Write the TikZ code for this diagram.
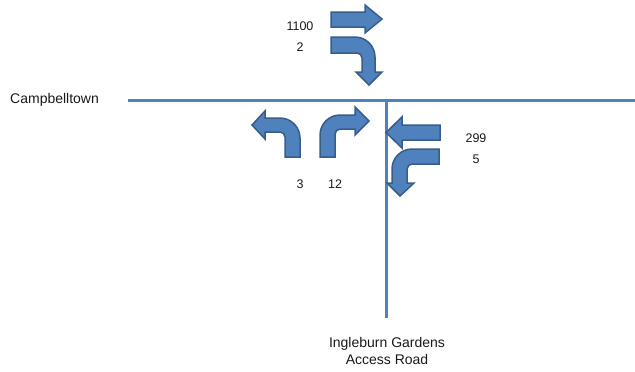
\documentclass[tikz,border=0pt]{standalone}
\usepackage{fontspec}
\setmainfont{Liberation Sans}
\definecolor{roadblue}{HTML}{4F81BD}
\definecolor{arrowfill}{HTML}{4F81BD}
\definecolor{arrowedge}{HTML}{385D8A}
\begin{document}
\begin{tikzpicture}[x=1pt,y=-1pt,
  road/.style={draw=roadblue,line width=3pt},
  turnarrow/.style={fill=arrowfill,draw=arrowedge,line width=1.5pt,line join=miter},
  lbl/.style={inner sep=0pt,font=\fontsize{14}{16.5}\selectfont,text=black!90},
  num/.style={inner sep=0pt,font=\fontsize{12.5}{14}\selectfont,text=black!90}]
\useasboundingbox (0,0) rectangle (635,372);
% roads
\coordinate (hw) at (128,100);
\coordinate (he) at (635,100);
\coordinate (vn) at (386,100);
\coordinate (vs) at (386,318);
\draw[road] (hw) -- (he);
\draw[road] (vn) -- (vs);
% arrow 1100 (straight east)
\path[turnarrow] (331,12) -- (365,12) -- (365,5) -- (382,19) -- (365,33) -- (365,27) -- (331,27) -- cycle;
% arrow 2 (east then south)
\path[turnarrow] (331,37) -- (355,37) .. controls (366,37) and (375,46) .. (375,57) -- (375,72) -- (382,72) -- (369,85) -- (356,72) -- (362,72) -- (362,58) .. controls (362,55.2) and (359.8,53) .. (357,53) -- (331,53) -- cycle;
% arrow 3 (north then west)
\path[turnarrow] (300,157) -- (300,138) .. controls (300,127) and (291,118) .. (280,118) -- (265,118) -- (265,111) -- (252,125) -- (265,139) -- (265,132) -- (280,132) .. controls (282.8,132) and (285,134.2) .. (285,137) -- (285,157) -- cycle;
% arrow 12 (north then east)
\path[turnarrow] (320,157) -- (320,135) .. controls (320,124) and (329,115) .. (340,115) -- (355,115) -- (355,107) -- (369,121) -- (355,135) -- (355,129) -- (340,129) .. controls (337.2,129) and (335,131.8) .. (335,134) -- (335,157) -- cycle;
% arrow 299 (straight west)
\path[turnarrow] (440,125) -- (402,125) -- (402,117) -- (386,132.5) -- (402,148) -- (402,140) -- (440,140) -- cycle;
% arrow 5 (west then south)
\path[turnarrow] (439,149) -- (412,149) .. controls (401,149) and (392,158) .. (392,169) -- (392,183) -- (387,183) -- (400,196) -- (414,183) -- (407,183) -- (407,169) .. controls (407,166.2) and (409.8,164) .. (412,164) -- (439,164) -- cycle;
% labels
\node[num] (n1100) at (300,26) {1100};
\node[num] (n2) at (300,47) {2};
\node[num] (n3) at (300,184) {3};
\node[num] (n12) at (335,184) {12};
\node[num] (n299) at (476,138) {299};
\node[num] (n5) at (476,159) {5};
\node[lbl,anchor=west] (camp) at (10,100) {Campbelltown};
\node[lbl,align=center] (ing) at (387,351) {Ingleburn Gardens\\Access Road};
\end{tikzpicture}
\end{document}
